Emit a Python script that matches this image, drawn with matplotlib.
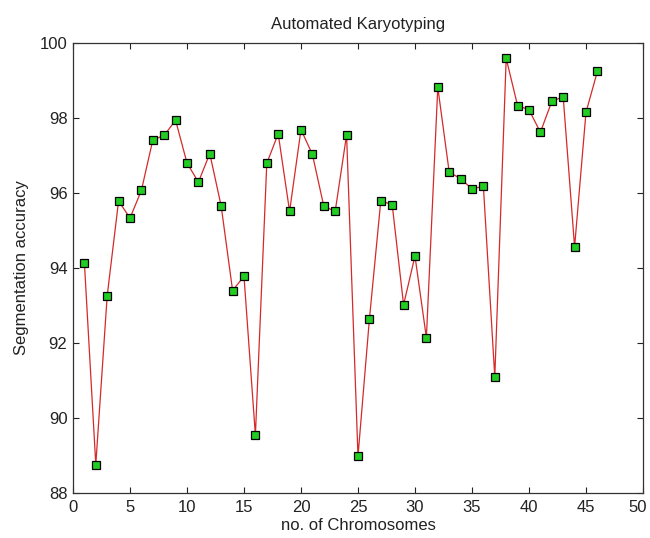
import matplotlib
matplotlib.use("Agg")
import matplotlib.pyplot as plt
import matplotlib.transforms as mtransforms

chromosomes = list(range(1, 47))
accuracy = [94.14, 88.76, 93.26, 95.79, 95.33, 96.07, 97.41, 97.54, 97.94, 96.80,
            96.29, 97.05, 95.65, 93.40, 93.78, 89.54, 96.79, 97.58, 95.51, 97.69,
            97.03, 95.65, 95.51, 97.55, 88.98, 92.63, 95.79, 95.69, 93.02, 94.32,
            92.14, 98.82, 96.56, 96.38, 96.11, 96.18, 91.09, 99.59, 98.33, 98.22,
            97.62, 98.44, 98.57, 94.56, 98.15, 99.24]
xticks = [0, 5, 10, 15, 20, 25, 30, 35, 40, 45, 50]
yticks = [88, 90, 92, 94, 96, 98, 100]

plt.rcParams['font.family'] = ['Liberation Sans', 'DejaVu Sans']
fig = plt.figure(figsize=(6.5, 5.38), dpi=100)
ax = fig.add_axes([0.1123, 0.0836, 0.8769, 0.8365])
ax.plot(chromosomes, accuracy, color='#d42a2a', lw=0.9, marker='s', markersize=6,
        markerfacecolor='#22cc22', markeredgecolor='black', markeredgewidth=0.9)
ax.set_xlim(0, 50)
ax.set_ylim(88, 100)
ax.set_xticks(xticks)
ax.set_yticks(yticks)
ax.tick_params(direction='in', top=True, right=True, labelsize=12, length=4.5, width=0.8,
               colors='#222222', labelcolor='#222222')
ax.tick_params(axis='x', pad=5)
ax.tick_params(axis='y', pad=4)
for s in ax.spines.values():
    s.set_linewidth(0.9)
    s.set_color('#333333')
ax.set_title('Automated Karyotyping', fontsize=12, pad=10, color='#222222')
ax.set_xlabel('no. of Chromosomes', fontsize=12, labelpad=2, color='#222222')
ax.set_ylabel('Segmentation accuracy', fontsize=12, labelpad=8, color='#222222')

# keep the last x tick label inside the figure
last = ax.get_xticklabels()[-1]
last.set_transform(last.get_transform() + mtransforms.ScaledTranslation(-4 / 72, 0, fig.dpi_scale_trans))

fig.savefig('out.png', dpi=100)
